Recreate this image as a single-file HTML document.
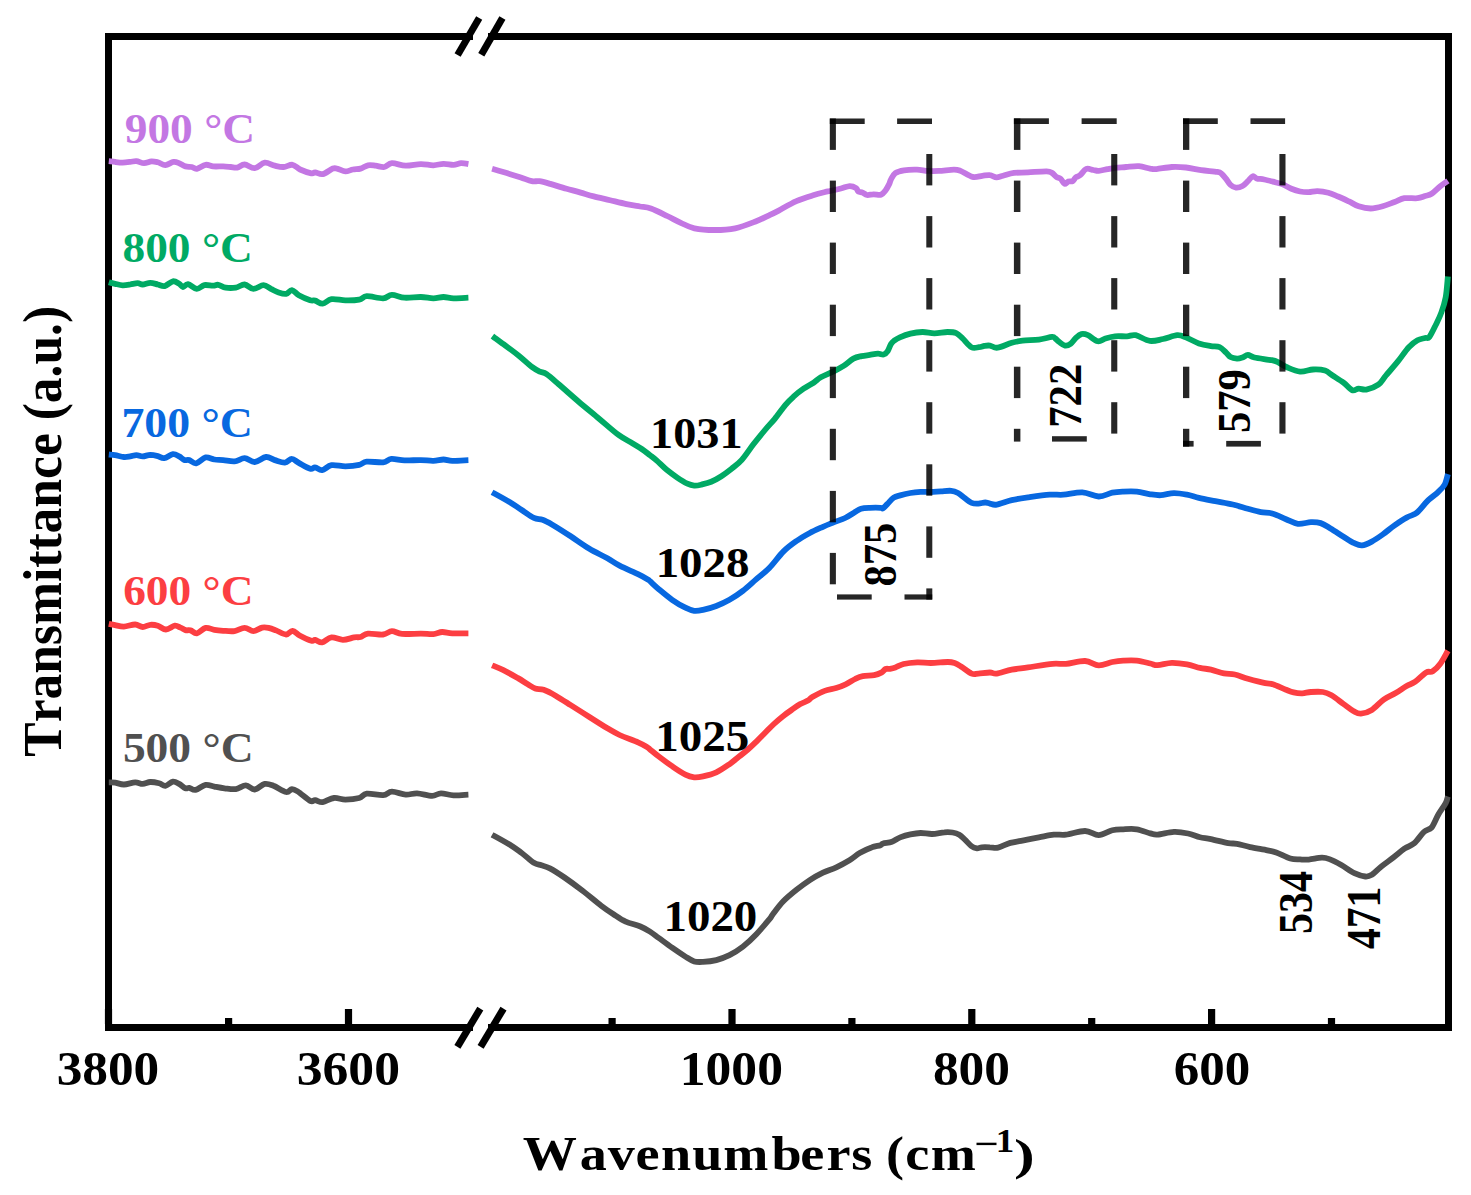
<!DOCTYPE html>
<html><head><meta charset="utf-8"><style>
html,body{margin:0;padding:0;background:#fff;width:1471px;height:1195px;overflow:hidden;}
</style></head><body>
<svg width="1471" height="1195" viewBox="0 0 1471 1195" style="position:absolute;left:0;top:0">
<rect x="0" y="0" width="1471" height="1195" fill="#fff"/>
<g font-family='"Liberation Serif", serif' font-weight="bold" style="font-kerning:none">
<g fill="#000">
<rect x="105" y="33" width="7" height="998"/>
<rect x="1445" y="33" width="7" height="998"/>
<rect x="105" y="33" width="368" height="7"/>
<rect x="488" y="33" width="964" height="7"/>
<rect x="105" y="1024" width="368" height="7"/>
<rect x="488" y="1024" width="964" height="7"/>
<rect x="104.9" y="1009" width="7.2" height="15"/>
<rect x="225.0" y="1018" width="7.2" height="6"/>
<rect x="344.9" y="1009" width="7.2" height="15"/>
<rect x="608.5" y="1018" width="7.2" height="6"/>
<rect x="728.4" y="1009" width="7.2" height="15"/>
<rect x="848.3" y="1018" width="7.2" height="6"/>
<rect x="968.2" y="1009" width="7.2" height="15"/>
<rect x="1088.1" y="1018" width="7.2" height="6"/>
<rect x="1208.0" y="1009" width="7.2" height="15"/>
<rect x="1327.9" y="1018" width="7.2" height="6"/>
</g>
<line x1="457.6" y1="55.1" x2="479.2" y2="17.9" stroke="#000" stroke-width="7"/>
<line x1="481.3" y1="54.8" x2="502.4" y2="17.9" stroke="#000" stroke-width="7"/>
<line x1="457.4" y1="1046.9" x2="480.3" y2="1008.6" stroke="#000" stroke-width="7"/>
<line x1="480.6" y1="1046.9" x2="503.5" y2="1008.6" stroke="#000" stroke-width="7"/>
<path d="M108.8,161.1 C109.8,161.2 112.8,161.7 115.1,161.9 C117.4,162.2 120.1,162.6 122.6,162.6 C125.1,162.6 127.9,162.2 130.2,161.9 C132.5,161.7 134.1,160.9 136.4,161.1 C138.7,161.3 141.5,163.2 144.0,163.2 C146.5,163.2 149.2,161.5 151.5,161.3 C153.8,161.2 155.5,161.7 157.8,162.3 C160.1,162.9 162.8,165.2 165.4,165.1 C168.0,165.0 171.2,162.2 173.5,161.9 C175.8,161.6 177.2,162.4 179.2,163.2 C181.2,163.9 183.4,165.8 185.5,166.4 C187.6,167.0 189.9,166.6 191.8,167.0 C193.7,167.4 194.5,169.3 196.8,168.9 C199.1,168.5 202.9,165.2 205.6,164.8 C208.3,164.4 210.3,166.1 213.2,166.4 C216.1,166.7 220.3,166.3 223.2,166.4 C226.1,166.5 228.5,166.8 230.8,167.0 C233.1,167.2 234.8,168.0 237.1,167.6 C239.4,167.2 241.7,164.4 244.6,164.5 C247.5,164.6 251.3,168.5 254.7,168.2 C258.1,167.9 261.3,163.0 264.7,162.6 C268.1,162.2 271.6,165.0 274.8,165.7 C278.0,166.4 280.7,167.2 283.6,167.0 C286.6,166.8 289.8,164.4 292.5,164.8 C295.2,165.2 297.0,168.1 300.1,169.5 C303.2,170.9 308.9,172.8 311.4,173.3 C313.9,173.8 313.3,172.3 315.2,172.4 C317.1,172.5 319.8,174.7 322.7,174.1 C325.6,173.5 330.3,169.5 332.8,168.6 C335.3,167.7 335.7,168.4 337.8,168.9 C339.9,169.4 342.9,171.3 345.4,171.4 C347.9,171.5 350.4,170.0 352.9,169.5 C355.4,169.0 358.0,169.3 360.5,168.6 C363.0,167.9 365.5,165.8 368.0,165.3 C370.5,164.8 372.9,165.4 375.6,165.7 C378.3,166.0 381.7,167.4 384.4,167.0 C387.1,166.6 388.3,163.4 391.9,163.2 C395.4,163.0 400.9,165.5 405.7,165.7 C410.5,165.8 416.2,164.2 420.8,164.1 C425.4,164.0 429.6,165.4 433.4,165.3 C437.2,165.2 440.1,163.9 443.5,163.8 C446.9,163.7 450.6,164.9 453.5,164.8 C456.4,164.7 458.6,163.3 461.1,163.2 C463.6,163.1 467.2,163.9 468.4,164.1" fill="none" stroke="#C377E3" stroke-width="5.8" stroke-linejoin="round" stroke-linecap="butt"/>
<path d="M492.1,168.7 C494.6,169.4 502.0,171.6 506.8,173.1 C511.6,174.6 516.7,176.1 520.9,177.4 C525.1,178.8 528.7,180.6 531.8,181.2 C534.9,181.8 536.3,180.8 539.4,181.2 C542.5,181.6 545.8,182.6 550.3,183.9 C554.8,185.2 561.5,187.4 566.6,188.8 C571.7,190.2 576.2,191.3 580.7,192.6 C585.2,193.9 588.9,195.1 593.8,196.4 C598.7,197.7 604.7,198.9 610.1,200.2 C615.5,201.5 621.4,203.0 626.4,204.1 C631.4,205.2 635.9,205.8 640.0,206.5 C644.1,207.2 646.4,207.0 650.9,208.6 C655.4,210.2 662.2,213.6 667.2,216.0 C672.2,218.4 676.3,220.8 680.8,222.8 C685.3,224.9 688.7,227.1 694.4,228.3 C700.1,229.5 708.0,230.0 714.8,230.0 C721.6,230.0 728.4,229.7 735.2,228.3 C742.0,226.9 749.9,223.7 755.6,221.5 C761.3,219.3 765.4,217.1 769.2,215.3 C773.1,213.5 774.2,213.0 778.7,210.6 C783.2,208.2 790.5,203.7 796.4,201.1 C802.3,198.5 809.2,196.5 814.0,195.0 C818.8,193.5 822.3,192.7 825.0,192.0 C827.7,191.3 827.4,191.6 830.0,191.0 C832.6,190.4 837.6,189.3 840.9,188.5 C844.2,187.7 847.1,186.2 849.6,186.1 C852.1,186.0 854.7,187.2 856.1,188.1 C857.5,189.0 857.2,190.8 858.3,191.5 C859.4,192.2 861.1,192.0 862.6,192.6 C864.1,193.2 865.2,194.7 867.0,195.0 C868.8,195.3 871.1,194.4 873.5,194.3 C875.9,194.2 879.1,195.2 881.1,194.6 C883.1,194.0 884.1,192.3 885.5,190.5 C886.9,188.7 888.4,185.7 889.3,183.9 C890.2,182.1 889.9,181.4 890.9,179.6 C891.9,177.8 893.1,174.6 895.3,173.1 C897.5,171.6 900.4,170.9 904.0,170.3 C907.6,169.7 913.0,169.5 917.0,169.6 C921.0,169.7 924.3,170.7 927.9,170.9 C931.5,171.1 934.4,171.1 938.8,170.9 C943.1,170.7 950.4,169.6 954.0,169.6 C957.6,169.6 957.4,169.7 960.5,170.9 C963.6,172.1 968.9,176.1 972.5,176.9 C976.1,177.7 979.4,176.1 982.3,175.8 C985.2,175.5 987.5,174.9 989.9,175.2 C992.3,175.4 994.3,177.2 996.5,177.3 C998.7,177.4 1000.2,176.4 1003.1,175.7 C1006.0,175.0 1009.7,173.4 1013.9,172.9 C1018.1,172.4 1022.6,172.7 1028.1,172.4 C1033.5,172.1 1042.6,171.2 1046.6,171.3 C1050.6,171.4 1050.4,172.0 1052.0,172.9 C1053.6,173.8 1054.8,175.8 1056.3,176.8 C1057.8,177.8 1059.3,177.7 1060.7,178.9 C1062.1,180.1 1063.2,183.4 1064.5,183.8 C1065.8,184.2 1066.9,182.1 1068.3,181.6 C1069.7,181.1 1071.4,181.8 1072.7,181.1 C1074.0,180.4 1074.6,178.3 1075.9,177.3 C1077.2,176.3 1078.6,176.5 1080.3,175.1 C1082.0,173.7 1084.1,169.8 1086.3,168.9 C1088.5,168.1 1091.2,169.7 1093.3,170.0 C1095.4,170.3 1096.4,171.0 1098.8,170.8 C1101.2,170.7 1104.8,169.6 1107.5,169.1 C1110.2,168.6 1112.0,168.2 1115.1,167.8 C1118.2,167.5 1122.0,167.3 1126.0,167.0 C1130.0,166.7 1135.0,165.9 1139.0,166.2 C1143.0,166.5 1147.1,168.1 1150.0,168.6 C1152.9,169.1 1152.9,169.4 1156.5,169.1 C1160.1,168.8 1166.9,167.3 1171.8,167.0 C1176.7,166.7 1181.0,167.0 1185.9,167.5 C1190.8,168.0 1195.8,169.5 1201.1,170.2 C1206.3,170.9 1214.0,171.3 1217.4,171.9 C1220.9,172.5 1220.3,172.8 1221.8,174.0 C1223.2,175.2 1224.6,177.1 1226.1,178.9 C1227.5,180.7 1228.9,183.5 1230.5,184.9 C1232.1,186.3 1233.9,187.4 1235.9,187.6 C1237.9,187.8 1240.5,187.1 1242.5,186.0 C1244.5,184.9 1246.2,182.7 1247.9,181.1 C1249.6,179.5 1251.3,176.6 1252.8,176.2 C1254.2,175.8 1254.7,177.8 1256.6,178.4 C1258.5,179.0 1261.1,178.9 1264.2,179.5 C1267.3,180.1 1272.0,181.4 1275.1,182.2 C1278.2,183.0 1280.0,183.3 1282.7,184.4 C1285.4,185.5 1288.5,187.5 1291.4,188.7 C1294.3,189.9 1297.2,190.9 1300.1,191.5 C1303.0,192.1 1305.8,192.3 1308.7,192.2 C1311.6,192.1 1314.1,191.0 1317.4,191.1 C1320.7,191.2 1324.8,191.8 1328.3,192.7 C1331.8,193.6 1334.7,195.1 1338.1,196.5 C1341.5,197.9 1345.5,199.8 1348.9,201.4 C1352.3,203.0 1355.1,205.1 1358.7,206.3 C1362.3,207.5 1366.7,208.5 1370.7,208.5 C1374.7,208.5 1378.7,207.4 1382.7,206.3 C1386.7,205.2 1391.0,203.3 1394.6,202.0 C1398.2,200.7 1400.6,198.8 1404.4,198.2 C1408.2,197.6 1414.0,198.6 1417.5,198.2 C1421.0,197.8 1422.8,196.7 1425.1,196.0 C1427.4,195.3 1429.1,195.4 1431.6,193.8 C1434.1,192.2 1437.6,188.4 1440.3,186.2 C1443.0,184.0 1446.6,181.7 1447.9,180.8" fill="none" stroke="#C377E3" stroke-width="5.8" stroke-linejoin="round" stroke-linecap="butt"/>
<path d="M108.8,282.3 C109.8,282.6 112.8,283.3 115.1,283.8 C117.4,284.3 120.1,285.2 122.6,285.3 C125.1,285.4 127.7,284.9 130.2,284.5 C132.7,284.1 135.6,283.2 137.7,283.2 C139.8,283.2 140.6,284.6 142.7,284.5 C144.8,284.4 147.8,282.8 150.3,282.8 C152.8,282.8 155.4,283.9 157.8,284.5 C160.2,285.1 162.2,286.6 164.7,286.1 C167.2,285.6 170.5,281.7 172.9,281.3 C175.3,280.9 177.5,282.9 179.2,283.8 C180.9,284.8 181.5,286.9 183.0,287.0 C184.5,287.1 185.7,283.8 188.0,284.1 C190.3,284.4 194.1,288.7 196.8,288.9 C199.5,289.1 201.7,285.6 204.4,285.1 C207.1,284.6 210.9,285.8 213.2,285.7 C215.5,285.6 216.1,284.5 218.2,284.8 C220.3,285.1 222.8,287.1 225.7,287.6 C228.6,288.1 232.7,288.1 235.8,287.6 C239.0,287.1 241.7,284.3 244.6,284.5 C247.5,284.7 250.2,288.8 253.4,288.9 C256.6,289.0 260.6,285.1 263.5,285.1 C266.4,285.1 268.5,287.6 271.0,288.9 C273.5,290.1 276.1,291.8 278.6,292.6 C281.1,293.4 283.9,294.3 286.1,293.9 C288.3,293.5 289.8,289.9 291.9,290.1 C294.0,290.3 295.8,293.5 298.8,295.2 C301.9,296.9 307.5,299.3 310.2,300.2 C312.9,301.1 313.1,300.0 315.2,300.6 C317.3,301.2 320.0,303.9 322.7,303.7 C325.4,303.5 327.7,299.8 331.5,299.2 C335.3,298.6 340.8,300.3 345.4,300.4 C350.0,300.5 355.6,300.3 359.2,299.6 C362.8,298.9 362.7,296.4 366.7,296.2 C370.7,296.0 378.9,298.5 383.1,298.3 C387.3,298.1 388.3,295.0 391.9,294.9 C395.5,294.8 399.7,297.3 404.5,297.7 C409.3,298.1 416.0,296.9 420.8,297.0 C425.6,297.1 429.6,298.3 433.4,298.3 C437.2,298.3 440.1,297.0 443.5,297.0 C446.9,297.0 449.4,298.2 453.5,298.3 C457.6,298.4 465.9,297.8 468.4,297.7" fill="none" stroke="#00AA64" stroke-width="5.8" stroke-linejoin="round" stroke-linecap="butt"/>
<path d="M492.4,336.1 C494.5,337.7 500.8,342.2 505.1,345.4 C509.5,348.6 514.0,351.9 518.5,355.5 C523.0,359.1 528.3,364.2 531.9,366.9 C535.5,369.6 537.4,370.4 539.9,371.6 C542.4,372.8 543.5,372.1 546.6,374.2 C549.7,376.3 553.4,379.7 558.7,384.3 C564.1,388.9 572.0,396.0 578.7,401.7 C585.4,407.4 592.1,412.8 598.8,418.4 C605.5,424.0 613.3,431.1 618.9,435.2 C624.5,439.3 628.5,440.9 632.3,443.2 C636.1,445.5 638.8,447.0 641.7,449.0 C644.7,451.0 647.5,453.3 650.0,455.2 C652.5,457.1 654.0,458.1 656.8,460.6 C659.6,463.1 663.6,467.3 667.0,470.1 C670.4,472.9 673.8,475.3 677.2,477.6 C680.6,479.9 684.6,482.4 687.4,483.7 C690.2,485.0 691.9,485.4 694.2,485.6 C696.5,485.8 698.2,485.4 701.0,484.7 C703.8,484.0 707.8,483.1 711.2,481.7 C714.6,480.3 718.0,478.4 721.4,476.2 C724.8,474.0 728.2,471.4 731.6,468.7 C735.0,466.0 738.2,464.0 741.8,459.9 C745.4,455.8 749.5,449.4 753.4,444.3 C757.3,439.2 761.8,433.8 765.4,429.5 C769.0,425.2 771.4,422.9 774.8,418.8 C778.1,414.7 782.4,408.5 785.5,404.8 C788.6,401.1 790.5,399.4 793.5,396.7 C796.5,394.0 800.2,391.0 803.6,388.7 C807.0,386.4 810.7,384.6 813.6,382.7 C816.5,380.8 817.6,379.1 820.8,377.3 C824.0,375.5 829.2,373.5 833.0,371.6 C836.8,369.7 840.2,368.1 843.6,365.9 C847.0,363.7 850.4,360.2 853.4,358.6 C856.4,357.0 858.9,356.7 861.6,356.1 C864.3,355.5 867.0,355.3 869.7,354.9 C872.4,354.5 875.6,353.8 877.9,353.7 C880.2,353.6 882.0,354.9 883.6,354.5 C885.2,354.1 886.5,353.0 887.7,351.2 C888.9,349.4 889.9,345.7 891.0,343.9 C892.1,342.1 892.7,341.7 894.2,340.6 C895.7,339.5 897.2,338.5 899.9,337.3 C902.6,336.1 906.7,334.5 910.5,333.6 C914.3,332.7 918.5,332.1 922.5,332.0 C926.5,331.9 930.2,333.3 934.4,333.3 C938.6,333.3 943.9,332.0 947.5,332.0 C951.1,332.0 953.7,332.0 956.2,333.1 C958.7,334.2 960.2,336.1 962.7,338.5 C965.2,340.9 968.7,345.8 971.4,347.2 C974.1,348.6 976.8,347.4 979.0,347.2 C981.2,347.0 982.6,346.2 984.4,345.9 C986.2,345.6 987.7,345.3 989.9,345.6 C992.1,345.9 994.0,348.2 997.6,347.7 C1001.2,347.2 1007.6,344.0 1011.8,342.8 C1016.0,341.6 1018.1,341.2 1022.6,340.7 C1027.1,340.2 1034.0,340.2 1038.9,339.6 C1043.8,339.0 1049.3,337.1 1052.0,336.9 C1054.7,336.7 1054.0,337.6 1055.3,338.5 C1056.6,339.4 1058.0,341.1 1059.6,342.3 C1061.2,343.5 1063.2,345.3 1065.0,345.6 C1066.8,345.9 1068.7,345.2 1070.5,343.9 C1072.3,342.6 1074.1,339.5 1075.9,337.9 C1077.7,336.3 1079.4,334.6 1081.4,334.1 C1083.4,333.7 1085.2,334.0 1087.9,335.2 C1090.6,336.4 1094.8,340.6 1097.7,341.2 C1100.6,341.8 1102.4,339.3 1105.3,338.5 C1108.2,337.7 1111.5,336.7 1115.1,336.3 C1118.7,335.9 1123.6,336.5 1127.0,336.3 C1130.4,336.1 1131.9,334.4 1135.7,335.2 C1139.5,336.0 1145.3,340.3 1149.9,340.9 C1154.5,341.5 1158.5,339.9 1163.1,339.0 C1167.6,338.1 1173.4,335.5 1177.2,335.2 C1181.0,334.9 1182.3,336.0 1185.9,337.4 C1189.5,338.8 1194.7,341.9 1198.9,343.4 C1203.1,344.8 1207.5,345.5 1210.9,346.1 C1214.4,346.7 1217.1,346.1 1219.6,347.2 C1222.1,348.3 1224.3,351.0 1226.1,352.6 C1227.9,354.2 1228.7,356.0 1230.5,357.0 C1232.3,358.0 1235.0,358.5 1237.0,358.6 C1239.0,358.7 1240.7,358.1 1242.5,357.5 C1244.3,356.9 1245.9,354.8 1247.9,354.8 C1249.9,354.8 1250.4,356.6 1254.4,357.5 C1258.4,358.4 1267.8,359.4 1271.8,360.2 C1275.8,361.0 1275.8,361.2 1278.3,362.4 C1280.8,363.6 1283.4,365.8 1287.0,367.3 C1290.6,368.8 1295.8,371.2 1300.1,371.6 C1304.4,372.0 1308.9,369.7 1313.1,369.5 C1317.2,369.3 1321.8,369.6 1325.0,370.6 C1328.2,371.6 1329.5,373.5 1332.6,375.5 C1335.7,377.5 1340.2,380.2 1343.5,382.6 C1346.8,385.1 1349.7,389.2 1352.2,390.2 C1354.7,391.2 1356.4,388.7 1358.7,388.6 C1361.0,388.5 1363.0,390.2 1366.3,389.6 C1369.6,389.0 1375.0,387.1 1378.3,384.7 C1381.6,382.3 1382.6,379.4 1385.9,375.5 C1389.2,371.6 1394.1,366.1 1397.9,361.4 C1401.7,356.7 1405.5,350.7 1408.8,347.2 C1412.1,343.7 1414.8,341.7 1417.5,340.2 C1420.2,338.7 1423.1,338.6 1425.1,338.0 C1427.1,337.4 1427.6,339.2 1429.4,336.9 C1431.2,334.6 1434.0,328.5 1436.0,324.4 C1438.0,320.3 1439.8,316.9 1441.4,312.4 C1443.0,307.9 1444.6,303.2 1445.7,297.2 C1446.8,291.2 1447.5,279.9 1447.9,276.5" fill="none" stroke="#00AA64" stroke-width="5.8" stroke-linejoin="round" stroke-linecap="butt"/>
<path d="M108.8,454.5 C109.8,454.6 112.6,454.7 115.1,455.1 C117.6,455.5 121.4,456.8 123.9,457.0 C126.4,457.2 128.1,456.7 130.2,456.4 C132.3,456.1 134.3,455.1 136.4,455.1 C138.5,455.1 140.4,456.4 142.7,456.4 C145.0,456.3 147.8,454.9 150.3,454.8 C152.8,454.8 155.5,455.5 157.8,456.1 C160.1,456.7 161.6,458.5 164.1,458.2 C166.6,457.9 170.4,454.4 172.9,454.1 C175.4,453.8 177.3,455.4 179.2,456.4 C181.1,457.4 182.5,459.3 184.2,459.9 C185.9,460.5 187.3,459.5 189.3,460.1 C191.3,460.7 193.5,463.8 196.2,463.3 C198.9,462.9 202.6,458.0 205.6,457.4 C208.6,456.8 211.5,459.1 214.4,459.5 C217.3,459.9 219.8,459.8 223.2,460.1 C226.5,460.4 230.9,461.7 234.5,461.4 C238.1,461.1 241.2,458.1 244.6,458.2 C248.0,458.3 251.1,462.2 254.7,462.0 C258.3,461.8 262.6,457.3 266.0,457.0 C269.4,456.7 271.7,459.2 274.8,460.1 C277.9,461.0 282.0,462.8 284.9,462.6 C287.8,462.4 289.6,458.8 291.9,458.9 C294.2,458.9 295.8,461.3 298.8,462.9 C301.9,464.5 307.5,467.9 310.2,468.7 C312.9,469.4 313.2,467.1 315.2,467.4 C317.2,467.6 319.4,470.6 322.1,470.2 C324.8,469.8 327.6,465.8 331.5,465.2 C335.4,464.6 340.8,466.4 345.4,466.4 C350.0,466.3 355.6,465.7 359.2,464.9 C362.8,464.1 362.7,462.0 366.7,461.6 C370.7,461.2 379.0,462.8 383.1,462.4 C387.2,461.9 387.7,459.2 391.3,458.9 C394.9,458.6 399.6,460.2 404.5,460.4 C409.4,460.6 416.0,460.0 420.8,460.1 C425.6,460.2 429.6,460.9 433.4,460.8 C437.2,460.7 440.4,459.5 443.5,459.5 C446.6,459.5 448.2,460.7 452.3,460.8 C456.4,460.9 465.7,460.2 468.4,460.1" fill="none" stroke="#0868E0" stroke-width="5.8" stroke-linejoin="round" stroke-linecap="butt"/>
<path d="M492.1,492.2 C495.0,493.8 504.6,499.0 509.5,502.0 C514.4,505.0 517.6,507.4 521.7,510.0 C525.8,512.6 530.4,516.3 533.9,517.9 C537.4,519.5 539.4,518.7 542.5,519.8 C545.6,520.9 547.6,522.0 552.3,524.7 C557.0,527.5 564.6,532.3 570.7,536.3 C576.8,540.3 582.9,544.8 589.0,548.5 C595.1,552.2 602.3,555.4 607.4,558.3 C612.5,561.2 614.5,563.1 619.6,565.7 C624.7,568.4 633.3,571.9 638.0,574.2 C642.7,576.5 645.8,578.3 647.8,579.5 C649.8,580.7 648.2,579.6 650.0,581.2 C651.8,582.8 655.1,586.1 658.8,589.2 C662.5,592.3 667.7,596.7 672.1,599.8 C676.5,602.9 681.7,605.9 685.4,607.7 C689.1,609.5 691.3,610.4 694.2,610.8 C697.1,611.2 699.3,610.7 703.0,609.9 C706.7,609.1 711.9,607.7 716.3,606.0 C720.7,604.3 725.1,602.3 729.5,599.8 C733.9,597.3 738.4,594.3 742.8,590.9 C747.2,587.5 751.7,583.2 756.1,579.4 C760.5,575.6 764.8,572.6 769.3,568.0 C773.8,563.4 778.8,556.1 783.3,551.6 C787.8,547.1 792.1,544.1 796.5,541.0 C800.9,537.9 805.4,535.4 809.8,533.0 C814.2,530.6 819.0,528.6 823.0,526.8 C827.0,525.0 829.9,523.9 833.6,522.4 C837.3,520.9 841.7,519.6 845.1,518.0 C848.5,516.4 851.4,514.2 854.0,512.7 C856.6,511.2 858.4,509.5 861.0,508.7 C863.6,507.9 866.6,507.9 869.9,507.8 C873.1,507.7 878.3,507.7 880.5,507.8 C882.7,507.9 881.9,509.0 883.1,508.3 C884.3,507.6 885.7,505.7 887.5,503.9 C889.3,502.1 891.6,499.1 893.7,497.7 C895.8,496.3 897.4,496.2 900.2,495.4 C903.0,494.6 907.0,493.6 910.4,493.0 C913.8,492.4 917.2,492.1 920.6,491.9 C924.0,491.7 927.4,492.1 930.8,492.0 C934.2,491.9 937.6,491.5 941.0,491.3 C944.4,491.1 948.4,490.5 951.2,490.8 C954.0,491.1 955.7,491.8 958.0,493.0 C960.3,494.2 962.5,496.5 964.8,498.1 C967.1,499.8 969.3,502.0 971.6,502.9 C973.9,503.8 976.1,503.7 978.4,503.6 C980.7,503.5 983.3,502.5 985.2,502.5 C987.1,502.5 988.0,503.2 989.9,503.6 C991.8,504.0 993.1,505.2 996.7,504.6 C1000.3,504.0 1006.5,501.4 1011.7,500.2 C1016.9,499.0 1021.7,498.3 1028.0,497.4 C1034.3,496.5 1043.8,495.1 1049.7,494.7 C1055.6,494.2 1057.8,495.1 1063.3,494.7 C1068.8,494.3 1076.5,492.1 1082.4,492.4 C1088.3,492.7 1093.7,496.4 1098.7,496.5 C1103.7,496.6 1108.2,493.5 1112.3,492.7 C1116.4,491.9 1119.1,491.8 1123.2,491.6 C1127.3,491.4 1132.3,491.2 1136.8,491.6 C1141.3,492.1 1146.3,493.7 1150.3,494.3 C1154.3,494.9 1157.0,495.4 1160.9,495.2 C1164.8,495.0 1169.6,493.2 1173.9,493.1 C1178.2,493.0 1182.8,493.9 1187.0,494.7 C1191.2,495.5 1194.2,496.8 1198.9,497.9 C1203.6,499.0 1209.7,500.1 1215.3,501.2 C1220.9,502.3 1227.3,503.2 1232.7,504.5 C1238.1,505.8 1243.2,507.5 1247.9,508.8 C1252.6,510.1 1256.7,511.3 1260.9,512.1 C1265.1,512.9 1268.7,512.5 1272.9,513.7 C1277.1,514.9 1281.8,517.5 1286.0,519.2 C1290.2,520.9 1293.8,523.3 1297.9,523.8 C1302.1,524.3 1307.1,522.3 1310.9,522.2 C1314.7,522.1 1317.4,522.1 1320.7,523.1 C1324.0,524.1 1326.7,526.2 1330.5,528.5 C1334.3,530.8 1339.5,534.2 1343.5,536.7 C1347.5,539.2 1351.3,541.8 1354.4,543.2 C1357.5,544.7 1359.1,545.7 1362.0,545.4 C1364.9,545.1 1368.3,543.4 1371.8,541.6 C1375.2,539.8 1378.9,537.2 1382.7,534.5 C1386.5,531.8 1390.6,528.1 1394.6,525.3 C1398.6,522.5 1403.1,519.5 1406.6,517.6 C1410.0,515.7 1413.1,515.1 1415.3,513.8 C1417.5,512.5 1417.4,512.3 1419.6,510.0 C1421.8,507.7 1425.2,503.2 1428.3,500.2 C1431.4,497.2 1435.4,494.7 1438.1,492.1 C1440.8,489.5 1443.1,487.5 1444.7,484.5 C1446.3,481.5 1447.4,475.8 1447.9,474.1" fill="none" stroke="#0868E0" stroke-width="5.8" stroke-linejoin="round" stroke-linecap="butt"/>
<path d="M108.8,623.8 C109.8,624.0 112.6,624.6 115.1,625.1 C117.6,625.6 120.6,626.7 123.9,626.6 C127.2,626.5 132.1,624.4 135.2,624.5 C138.3,624.6 140.2,627.0 142.7,627.0 C145.2,627.0 147.8,625.0 150.3,624.8 C152.8,624.6 155.2,624.9 157.8,625.7 C160.4,626.5 163.2,629.5 166.0,629.5 C168.8,629.5 172.4,626.0 174.8,625.7 C177.2,625.4 178.7,626.9 180.5,627.6 C182.3,628.3 183.8,629.6 185.5,630.1 C187.2,630.6 188.6,629.9 190.5,630.4 C192.4,630.9 194.3,633.7 196.8,633.3 C199.3,632.9 202.7,628.5 205.6,627.9 C208.5,627.3 211.5,629.4 214.4,629.9 C217.3,630.4 219.8,630.6 223.2,630.8 C226.5,631.0 230.9,631.6 234.5,631.1 C238.1,630.6 241.4,627.9 244.6,627.9 C247.8,627.9 250.5,631.1 253.4,631.1 C256.3,631.1 259.7,628.1 262.2,627.6 C264.7,627.1 266.2,627.4 268.5,627.9 C270.8,628.4 273.1,629.3 276.0,630.4 C278.9,631.5 283.4,634.4 286.1,634.5 C288.9,634.6 290.2,630.6 292.5,630.8 C294.8,631.0 297.0,634.1 300.1,635.8 C303.2,637.5 308.9,640.1 311.4,640.8 C313.9,641.5 313.4,639.6 315.2,639.9 C317.0,640.2 319.4,642.8 322.1,642.4 C324.8,642.0 328.0,637.8 331.5,637.4 C335.0,637.0 339.1,639.9 342.9,639.9 C346.7,639.9 351.3,637.9 354.2,637.4 C357.1,636.9 358.2,637.6 360.5,637.0 C362.8,636.4 364.2,634.0 368.0,633.6 C371.8,633.2 379.1,634.9 383.1,634.5 C387.1,634.1 388.8,631.2 391.9,631.1 C395.0,631.0 397.2,633.5 402.0,633.9 C406.8,634.3 415.6,633.6 420.8,633.6 C426.0,633.6 429.8,634.4 433.4,634.1 C437.0,633.8 439.0,632.1 442.2,632.0 C445.4,631.9 447.9,633.1 452.3,633.3 C456.7,633.5 465.7,633.3 468.4,633.3" fill="none" stroke="#FC3E42" stroke-width="5.8" stroke-linejoin="round" stroke-linecap="butt"/>
<path d="M492.1,665.3 C494.0,666.1 499.1,668.1 503.4,670.2 C507.7,672.3 513.9,675.8 518.0,678.1 C522.1,680.5 524.9,682.6 527.8,684.3 C530.7,686.0 532.6,687.6 535.2,688.5 C537.9,689.4 540.2,688.6 543.7,689.8 C547.2,691.0 551.5,693.3 556.0,695.9 C560.5,698.5 565.2,701.6 570.7,705.1 C576.2,708.6 582.9,712.8 589.0,716.7 C595.1,720.6 602.3,725.2 607.4,728.3 C612.5,731.3 614.5,732.6 619.6,735.0 C624.7,737.4 633.5,740.4 638.0,742.4 C642.5,744.4 644.5,745.5 646.5,746.7 C648.5,747.9 648.0,747.8 650.0,749.4 C652.0,751.0 655.1,753.7 658.8,756.5 C662.5,759.3 667.7,763.2 672.1,766.2 C676.5,769.2 681.7,772.8 685.4,774.6 C689.1,776.5 691.3,777.0 694.2,777.3 C697.1,777.6 699.3,777.2 703.0,776.4 C706.7,775.6 711.8,774.5 716.3,772.4 C720.8,770.3 726.2,766.4 730.0,763.8 C733.8,761.2 735.9,759.1 738.8,756.8 C741.7,754.5 744.7,752.3 747.6,749.8 C750.5,747.3 753.5,744.4 756.4,741.6 C759.3,738.8 762.2,735.7 765.1,732.8 C768.0,729.9 771.0,726.7 773.9,724.0 C776.8,721.3 779.8,718.7 782.7,716.4 C785.6,714.1 788.6,712.0 791.5,710.0 C794.4,708.0 797.6,705.7 800.3,704.1 C803.0,702.5 805.9,701.8 807.9,700.6 C809.9,699.4 809.5,698.7 812.3,697.1 C815.1,695.5 820.7,692.4 824.7,690.9 C828.7,689.4 832.6,689.2 836.1,688.1 C839.6,687.0 842.5,685.8 845.7,684.3 C848.9,682.8 852.4,680.4 855.2,679.0 C858.1,677.6 859.6,676.8 862.8,676.2 C866.0,675.6 871.0,675.8 874.2,675.2 C877.4,674.6 879.9,673.4 881.8,672.4 C883.7,671.4 884.2,669.6 885.6,669.0 C887.0,668.4 888.4,669.1 890.0,668.8 C891.6,668.5 893.1,668.2 895.4,667.4 C897.7,666.6 900.0,664.9 903.6,664.0 C907.2,663.1 912.7,662.5 917.2,662.3 C921.7,662.1 925.7,663.0 930.8,663.0 C935.9,663.0 943.8,662.0 947.8,662.0 C951.8,662.0 952.3,662.2 954.6,663.0 C956.9,663.8 958.6,665.0 961.4,666.8 C964.2,668.6 968.8,672.5 971.6,673.6 C974.4,674.7 975.4,673.8 978.4,673.6 C981.4,673.4 986.8,672.5 989.9,672.5 C993.0,672.5 993.1,674.1 996.7,673.6 C1000.3,673.1 1006.5,670.7 1011.7,669.7 C1016.9,668.7 1021.2,668.4 1028.0,667.4 C1034.8,666.4 1046.2,664.4 1052.5,663.8 C1058.8,663.2 1060.6,664.3 1066.0,663.8 C1071.4,663.3 1079.6,660.7 1085.1,661.0 C1090.5,661.3 1094.2,665.2 1098.7,665.4 C1103.2,665.6 1108.2,662.8 1112.3,662.0 C1116.4,661.2 1119.1,660.8 1123.2,660.6 C1127.3,660.4 1132.3,660.1 1136.8,660.6 C1141.3,661.1 1146.8,662.7 1150.3,663.5 C1153.8,664.3 1154.0,665.3 1157.6,665.2 C1161.2,665.1 1166.9,662.9 1171.8,662.8 C1176.7,662.7 1182.3,663.5 1187.0,664.4 C1191.7,665.2 1196.0,667.0 1200.0,667.9 C1204.0,668.8 1206.9,668.7 1210.9,669.6 C1214.9,670.5 1220.0,672.6 1224.0,673.4 C1228.0,674.2 1230.8,673.6 1234.8,674.5 C1238.8,675.4 1242.8,677.3 1247.9,678.8 C1253.0,680.2 1261.1,682.3 1265.3,683.2 C1269.5,684.1 1269.5,683.2 1272.9,684.3 C1276.4,685.4 1282.5,688.4 1286.0,689.7 C1289.5,691.1 1290.9,691.8 1293.6,692.4 C1296.3,693.0 1299.4,693.4 1302.3,693.3 C1305.2,693.2 1307.5,692.2 1310.9,692.0 C1314.3,691.8 1319.4,691.5 1322.8,692.0 C1326.2,692.5 1328.0,693.3 1331.5,695.3 C1335.0,697.3 1339.9,701.4 1343.5,704.0 C1347.1,706.6 1350.4,709.4 1353.3,711.0 C1356.2,712.6 1357.8,713.9 1360.9,713.7 C1364.0,713.5 1368.0,712.2 1371.8,709.9 C1375.6,707.5 1379.7,702.4 1383.7,699.6 C1387.7,696.8 1391.9,695.4 1395.7,693.1 C1399.5,690.8 1403.3,687.9 1406.6,686.0 C1409.9,684.1 1412.0,684.0 1415.3,681.7 C1418.6,679.4 1423.3,674.1 1426.2,672.4 C1429.1,670.7 1430.4,672.8 1432.7,671.3 C1435.0,669.8 1437.8,667.1 1440.3,663.7 C1442.8,660.3 1446.6,652.9 1447.9,650.7" fill="none" stroke="#FC3E42" stroke-width="5.8" stroke-linejoin="round" stroke-linecap="butt"/>
<path d="M108.8,782.4 C109.8,782.4 112.6,782.2 115.1,782.6 C117.6,783.0 120.6,784.5 123.9,784.5 C127.2,784.5 132.1,782.5 135.2,782.4 C138.3,782.3 140.2,784.0 142.7,783.9 C145.2,783.8 147.6,782.1 150.3,782.0 C153.0,781.9 156.6,782.6 159.1,783.2 C161.6,783.8 163.1,786.1 165.4,785.8 C167.7,785.5 170.6,781.9 172.9,781.6 C175.2,781.3 177.1,782.8 179.2,783.9 C181.3,785.0 183.8,787.6 185.5,788.3 C187.2,789.0 187.6,787.6 189.3,787.9 C191.0,788.2 192.9,790.4 195.6,789.9 C198.3,789.4 202.5,785.4 205.6,784.9 C208.7,784.4 211.2,786.0 214.4,786.6 C217.6,787.2 220.9,787.9 224.5,788.3 C228.1,788.7 232.2,789.6 235.8,789.1 C239.4,788.6 242.8,785.3 245.9,785.4 C249.1,785.5 251.6,789.8 254.7,789.5 C257.8,789.2 261.6,784.5 264.7,783.9 C267.8,783.3 269.9,784.4 273.5,785.8 C277.1,787.1 283.0,791.5 286.1,792.0 C289.2,792.5 290.0,789.2 291.9,789.1 C293.8,789.0 294.6,789.5 297.6,791.4 C300.7,793.3 307.3,799.3 310.2,800.8 C313.1,802.3 313.1,800.0 315.2,800.2 C317.3,800.4 319.6,802.5 322.7,802.1 C325.8,801.7 330.2,798.4 334.0,798.0 C337.8,797.6 341.2,799.6 345.4,799.6 C349.6,799.6 355.6,799.0 359.2,798.0 C362.8,797.0 362.7,794.2 366.7,793.7 C370.7,793.2 378.9,795.5 383.1,795.2 C387.3,794.9 388.1,791.8 391.9,791.7 C395.7,791.6 401.5,794.3 405.7,794.6 C409.9,794.9 412.7,793.1 417.1,793.3 C421.5,793.5 428.1,795.8 432.1,795.8 C436.1,795.8 437.4,793.4 441.0,793.3 C444.6,793.2 448.9,795.2 453.5,795.4 C458.1,795.6 465.9,794.7 468.4,794.6" fill="none" stroke="#505050" stroke-width="5.8" stroke-linejoin="round" stroke-linecap="butt"/>
<path d="M492.1,834.7 C495.0,836.3 504.6,841.5 509.5,844.5 C514.4,847.5 517.6,850.0 521.7,853.0 C525.8,856.0 530.6,860.8 533.9,862.8 C537.2,864.8 538.6,864.4 541.3,865.3 C544.0,866.2 546.0,866.3 549.9,868.3 C553.8,870.3 559.0,873.7 564.5,877.5 C570.0,881.3 576.8,886.3 582.9,891.0 C589.0,895.7 596.1,901.8 601.2,905.7 C606.3,909.6 609.4,911.6 613.5,914.2 C617.6,916.9 621.2,919.6 625.7,921.6 C630.2,923.6 636.4,924.8 640.4,926.5 C644.4,928.2 646.9,929.7 650.0,931.6 C653.1,933.5 655.1,935.3 658.8,938.0 C662.5,940.7 667.7,944.6 672.1,947.7 C676.5,950.8 681.7,954.3 685.4,956.6 C689.1,958.9 691.3,960.5 694.2,961.4 C697.1,962.3 699.3,962.1 703.0,961.9 C706.7,961.7 711.9,961.2 716.3,960.1 C720.7,959.0 725.1,957.4 729.5,955.2 C733.9,953.0 738.4,950.2 742.8,946.8 C747.2,943.3 751.7,939.1 756.1,934.5 C760.5,929.9 766.5,922.7 769.3,919.4 C772.1,916.1 770.4,917.5 772.7,914.5 C775.0,911.5 779.3,905.4 783.3,901.3 C787.3,897.2 792.1,893.3 796.5,889.8 C800.9,886.3 805.4,883.0 809.8,880.1 C814.2,877.2 818.6,874.7 823.0,872.6 C827.4,870.5 831.9,869.4 836.3,867.3 C840.7,865.2 845.5,862.6 849.5,860.2 C853.5,857.8 856.4,854.8 860.1,852.7 C863.8,850.6 868.2,848.6 871.6,847.4 C875.0,846.1 878.6,845.9 880.5,845.2 C882.4,844.5 881.2,844.0 883.1,843.4 C885.0,842.8 889.1,842.7 892.0,841.7 C894.9,840.7 897.1,838.6 900.2,837.4 C903.3,836.2 907.0,835.1 910.4,834.4 C913.8,833.7 917.0,833.1 920.6,833.0 C924.2,832.9 928.1,834.1 932.1,834.0 C936.1,833.9 941.0,832.5 944.4,832.3 C947.8,832.0 950.0,832.1 952.5,832.5 C955.0,832.9 957.2,833.5 959.3,834.7 C961.3,835.9 962.8,837.6 964.8,839.5 C966.8,841.4 969.6,844.8 971.6,846.3 C973.6,847.8 975.3,848.1 977.0,848.3 C978.7,848.5 979.6,847.5 981.8,847.3 C983.9,847.1 987.2,847.2 989.9,847.3 C992.6,847.3 994.7,848.3 998.1,847.6 C1001.5,846.9 1006.4,844.0 1010.3,842.9 C1014.1,841.8 1016.4,841.7 1021.2,840.8 C1026.0,839.9 1033.5,838.4 1038.9,837.4 C1044.3,836.4 1049.3,835.2 1053.8,834.7 C1058.3,834.2 1060.8,835.3 1066.0,834.7 C1071.2,834.1 1079.6,830.9 1085.1,831.0 C1090.5,831.1 1094.2,835.2 1098.7,835.1 C1103.2,835.0 1108.2,831.2 1112.3,830.2 C1116.4,829.2 1119.1,829.4 1123.2,829.3 C1127.3,829.1 1132.3,828.6 1136.8,829.3 C1141.3,830.0 1146.8,832.5 1150.3,833.4 C1153.8,834.3 1153.7,834.9 1157.6,834.6 C1161.5,834.4 1168.8,832.1 1173.9,831.9 C1179.0,831.7 1183.8,832.6 1188.1,833.5 C1192.4,834.4 1196.2,836.4 1200.0,837.3 C1203.8,838.2 1206.2,838.1 1210.9,839.1 C1215.6,840.1 1224.0,842.3 1228.3,843.1 C1232.6,843.9 1233.4,843.1 1237.0,843.8 C1240.6,844.5 1245.0,846.0 1250.1,847.1 C1255.2,848.2 1263.2,849.4 1267.5,850.3 C1271.8,851.2 1272.4,851.1 1276.2,852.5 C1280.0,853.9 1286.3,857.4 1290.3,858.5 C1294.3,859.6 1297.0,859.2 1300.1,859.4 C1303.2,859.6 1305.1,859.9 1308.7,859.6 C1312.3,859.3 1318.3,857.8 1321.8,857.7 C1325.2,857.6 1326.2,857.9 1329.4,859.1 C1332.7,860.3 1337.1,862.6 1341.3,865.0 C1345.5,867.4 1350.4,871.3 1354.4,873.2 C1358.4,875.1 1362.4,876.2 1365.3,876.5 C1368.2,876.8 1369.3,876.3 1371.8,874.8 C1374.3,873.2 1376.9,870.1 1380.5,867.2 C1384.1,864.3 1389.5,860.5 1393.5,857.4 C1397.5,854.3 1401.0,851.1 1404.4,848.7 C1407.9,846.4 1410.9,846.1 1414.2,843.3 C1417.5,840.5 1421.1,834.5 1424.0,831.9 C1426.9,829.3 1429.2,830.3 1431.6,827.5 C1433.9,824.7 1435.8,819.1 1438.1,815.0 C1440.4,810.9 1444.1,806.2 1445.7,803.1 C1447.3,800.0 1447.5,797.6 1447.9,796.5" fill="none" stroke="#505050" stroke-width="5.8" stroke-linejoin="round" stroke-linecap="butt"/>
<rect x="829.8" y="118.5" width="34.9" height="5.5" fill="rgba(0,0,0,0.85)"/>
<rect x="897.1" y="118.5" width="34.9" height="5.5" fill="rgba(0,0,0,0.85)"/>
<rect x="829.8" y="118.5" width="6.1" height="31.4" fill="rgba(0,0,0,0.85)"/>
<rect x="829.8" y="180.6" width="6.1" height="31.4" fill="rgba(0,0,0,0.85)"/>
<rect x="829.8" y="242.6" width="6.1" height="31.4" fill="rgba(0,0,0,0.85)"/>
<rect x="829.8" y="304.7" width="6.1" height="31.4" fill="rgba(0,0,0,0.85)"/>
<rect x="829.8" y="366.7" width="6.1" height="31.4" fill="rgba(0,0,0,0.85)"/>
<rect x="829.8" y="428.8" width="6.1" height="31.4" fill="rgba(0,0,0,0.85)"/>
<rect x="829.8" y="490.9" width="6.1" height="31.4" fill="rgba(0,0,0,0.85)"/>
<rect x="829.8" y="552.9" width="6.1" height="31.4" fill="rgba(0,0,0,0.85)"/>
<rect x="926.3" y="154.0" width="6.0" height="31.4" fill="rgba(0,0,0,0.85)"/>
<rect x="926.3" y="216.1" width="6.0" height="31.4" fill="rgba(0,0,0,0.85)"/>
<rect x="926.3" y="278.1" width="6.0" height="31.4" fill="rgba(0,0,0,0.85)"/>
<rect x="926.3" y="340.2" width="6.0" height="31.4" fill="rgba(0,0,0,0.85)"/>
<rect x="926.3" y="402.2" width="6.0" height="31.4" fill="rgba(0,0,0,0.85)"/>
<rect x="926.3" y="464.3" width="6.0" height="31.4" fill="rgba(0,0,0,0.85)"/>
<rect x="926.3" y="526.4" width="6.0" height="31.4" fill="rgba(0,0,0,0.85)"/>
<rect x="926.3" y="588.4" width="6.0" height="11.2" fill="rgba(0,0,0,0.85)"/>
<rect x="837.0" y="594.4" width="34.7" height="5.2" fill="rgba(0,0,0,0.85)"/>
<rect x="904.5" y="594.4" width="27.7" height="5.2" fill="rgba(0,0,0,0.85)"/>
<rect x="1013.9" y="118.3" width="35.0" height="5.7" fill="rgba(0,0,0,0.85)"/>
<rect x="1081.6" y="118.3" width="35.1" height="5.7" fill="rgba(0,0,0,0.85)"/>
<rect x="1013.9" y="118.5" width="6.5" height="31.4" fill="rgba(0,0,0,0.85)"/>
<rect x="1013.9" y="180.6" width="6.5" height="31.4" fill="rgba(0,0,0,0.85)"/>
<rect x="1013.9" y="242.6" width="6.5" height="31.4" fill="rgba(0,0,0,0.85)"/>
<rect x="1013.9" y="304.7" width="6.5" height="31.4" fill="rgba(0,0,0,0.85)"/>
<rect x="1013.9" y="366.7" width="6.5" height="31.4" fill="rgba(0,0,0,0.85)"/>
<rect x="1013.9" y="428.8" width="6.5" height="12.8" fill="rgba(0,0,0,0.85)"/>
<rect x="1111.2" y="154.0" width="6.1" height="31.4" fill="rgba(0,0,0,0.85)"/>
<rect x="1111.2" y="216.1" width="6.1" height="31.4" fill="rgba(0,0,0,0.85)"/>
<rect x="1111.2" y="278.1" width="6.1" height="31.4" fill="rgba(0,0,0,0.85)"/>
<rect x="1111.2" y="340.2" width="6.1" height="31.4" fill="rgba(0,0,0,0.85)"/>
<rect x="1111.2" y="402.2" width="6.1" height="31.4" fill="rgba(0,0,0,0.85)"/>
<rect x="1052.0" y="436.2" width="34.8" height="5.4" fill="rgba(0,0,0,0.85)"/>
<rect x="1183.0" y="118.3" width="34.8" height="5.7" fill="rgba(0,0,0,0.85)"/>
<rect x="1250.5" y="118.3" width="34.6" height="5.7" fill="rgba(0,0,0,0.85)"/>
<rect x="1183.0" y="118.5" width="6.3" height="31.4" fill="rgba(0,0,0,0.85)"/>
<rect x="1183.0" y="180.6" width="6.3" height="31.4" fill="rgba(0,0,0,0.85)"/>
<rect x="1183.0" y="242.6" width="6.3" height="31.4" fill="rgba(0,0,0,0.85)"/>
<rect x="1183.0" y="304.7" width="6.3" height="31.4" fill="rgba(0,0,0,0.85)"/>
<rect x="1183.0" y="366.7" width="6.3" height="31.4" fill="rgba(0,0,0,0.85)"/>
<rect x="1183.0" y="428.8" width="6.3" height="17.8" fill="rgba(0,0,0,0.85)"/>
<rect x="1279.4" y="154.0" width="6.1" height="31.4" fill="rgba(0,0,0,0.85)"/>
<rect x="1279.4" y="216.1" width="6.1" height="31.4" fill="rgba(0,0,0,0.85)"/>
<rect x="1279.4" y="278.1" width="6.1" height="31.4" fill="rgba(0,0,0,0.85)"/>
<rect x="1279.4" y="340.2" width="6.1" height="31.4" fill="rgba(0,0,0,0.85)"/>
<rect x="1279.4" y="402.2" width="6.1" height="31.4" fill="rgba(0,0,0,0.85)"/>
<rect x="1183.0" y="440.9" width="10.6" height="5.7" fill="rgba(0,0,0,0.85)"/>
<rect x="1226.2" y="440.9" width="34.7" height="5.7" fill="rgba(0,0,0,0.85)"/>
<text transform="translate(56.67,1085.03) scale(1.0716,1)" font-size="47.87" fill="#000" >3800</text>
<text transform="translate(296.66,1085.22) scale(1.0595,1)" font-size="48.75" fill="#000" >3600</text>
<text transform="translate(679.77,1085.23) scale(1.0648,1)" font-size="48.46" fill="#000" >1000</text>
<text transform="translate(932.89,1085.23) scale(1.0616,1)" font-size="48.46" fill="#000" >800</text>
<text transform="translate(1173.86,1085.23) scale(1.0522,1)" font-size="48.46" fill="#000" >600</text>
<text transform="translate(124.76,143.33) scale(1.0648,1)" font-size="42.60" fill="#C377E3" >900 °C</text>
<text transform="translate(122.49,262.08) scale(1.0635,1)" font-size="42.68" fill="#00AA64" >800 °C</text>
<text transform="translate(121.38,436.70) scale(1.0759,1)" font-size="42.56" fill="#0868E0" >700 °C</text>
<text transform="translate(123.15,604.58) scale(1.0529,1)" font-size="43.12" fill="#FC3E42" >600 °C</text>
<text transform="translate(122.88,762.48) scale(1.0625,1)" font-size="42.83" fill="#505050" >500 °C</text>
<text transform="translate(649.99,447.88) scale(1.0664,1)" font-size="43.42" fill="#000" >1031</text>
<text transform="translate(655.64,576.68) scale(1.0890,1)" font-size="43.12" fill="#000" >1028</text>
<text transform="translate(655.23,750.97) scale(1.0761,1)" font-size="43.72" fill="#000" >1025</text>
<text transform="translate(663.44,931.28) scale(1.0856,1)" font-size="43.27" fill="#000" >1020</text>
<text transform="translate(896.44,586.61) rotate(-90) scale(1,1.1085)" font-size="42.51" fill="#000">875</text>
<text transform="translate(1080.80,427.74) rotate(-90) scale(1,1.1014)" font-size="42.65" fill="#000">722</text>
<text transform="translate(1250.34,433.11) rotate(-90) scale(1,1.1014)" font-size="42.70" fill="#000">579</text>
<text transform="translate(1311.73,933.98) rotate(-90) scale(1,1.1329)" font-size="42.04" fill="#000">534</text>
<text transform="translate(1379.90,949.07) rotate(-90) scale(1,1.1430)" font-size="41.62" fill="#000">471</text>
<text transform="translate(61.48,756.71) rotate(-90) scale(1,1.0591)" font-size="51.55" fill="#000">Transmittance (a.u.)</text>
<text transform="translate(0,1170.00) scale(1.1400,1)" x="458.63 508.64 533.16 557.41 579.78 607.18 634.51 676.77 702.06 724.95 746.81 777.30 794.17 816.53" y="0" font-size="47.50" fill="#000">Wavenumbers(cm</text>
<rect x="976.5" y="1142.7" width="20" height="2.4" fill="#000"/>
<text transform="translate(995.84,1151.50) scale(1.1186,1)" font-size="33.02" fill="#000" >1</text>
<text transform="translate(1013.99,1170.00) scale(1.3999,1)" font-size="44.50" fill="#000" >)</text>
</g></svg>
</body></html>
